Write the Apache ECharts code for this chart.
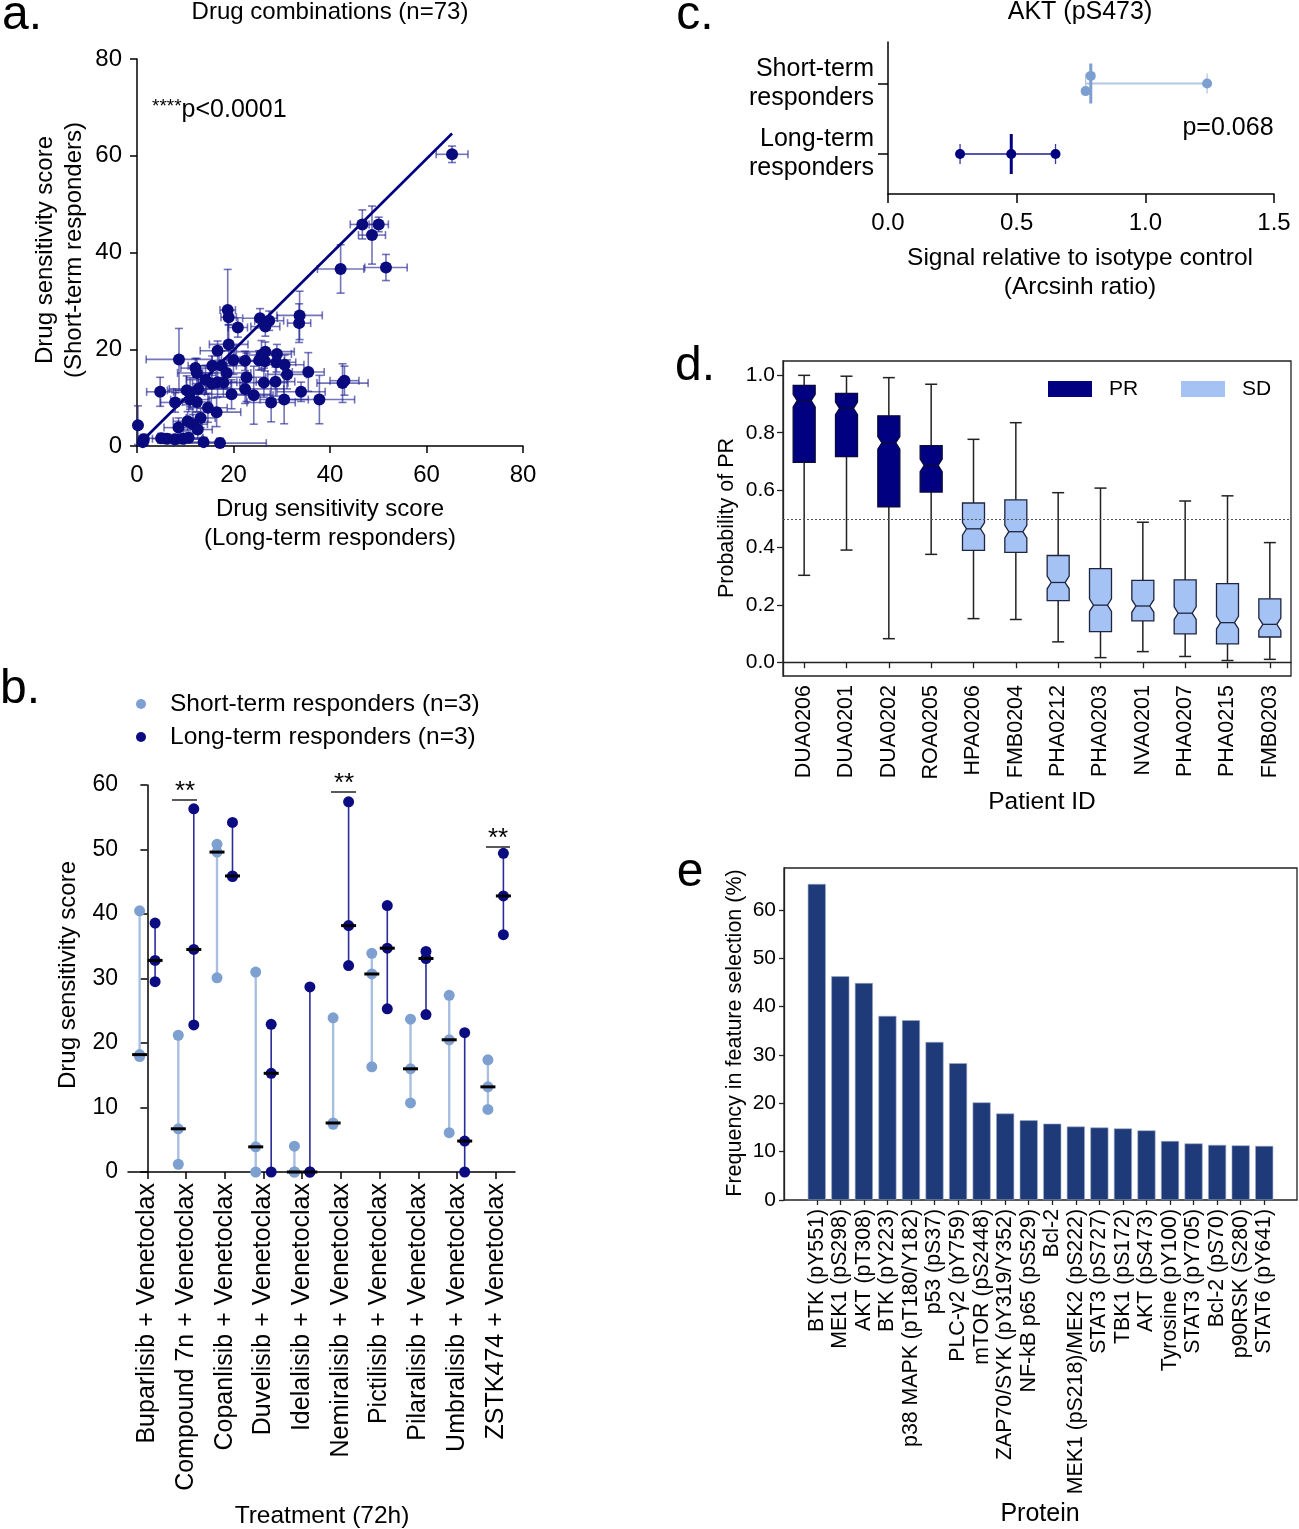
<!DOCTYPE html>
<html><head><meta charset="utf-8">
<script src="https://cdn.jsdelivr.net/npm/echarts@6/dist/echarts.min.js"></script>
<style>html,body{margin:0;padding:0;background:#fff}#c{width:1299px;height:1529px}</style>
</head><body><div id="c"></div><script>
const FONT = '"Liberation Sans", Arial, Helvetica, sans-serif';

// ---------- Panel a: drug combinations (n=73) ----------
const aX = [46.7,50.1,48.7,42.2,51.6,18.8,19.0,20.9,25.5,27.4,26.6,33.7,33.6,19.0,16.7,8.7,26.6,29.0,25.3,26.5,22.4,20.0,30.6,15.6,17.5,12.1,18.6,22.7,31.1,35.5,14.2,16.7,26.3,28.7,42.6,43.0,4.8,10.3,12.7,22.4,34.0,19.6,24.2,7.9,11.0,12.4,27.8,30.5,37.8,14.7,16.5,13.2,0.2,10.5,8.6,11.6,12.6,1.4,1.2,5.0,6.2,7.9,9.5,10.7,13.8,17.2,12.4,28.9,25.8,15.5,11.0,65.3,17.9];
const aY = [45.8,45.8,43.6,36.6,36.9,28.1,26.6,24.5,26.4,25.9,24.7,27.0,25.4,21.0,19.7,17.9,19.5,19.0,17.7,17.5,17.6,17.8,16.8,16.6,16.6,16.1,15.1,14.2,14.8,15.3,13.7,13.2,13.1,13.3,13.0,13.5,11.2,11.5,11.8,11.8,11.2,10.7,10.5,9.0,9.6,9.1,9.0,9.6,9.6,7.9,7.0,5.8,4.3,5.1,3.8,4.5,3.4,1.4,0.8,1.6,1.5,1.4,1.5,1.7,0.8,0.6,15.1,17.3,18.8,12.9,11.1,60.3,13.1];
const aXErr = [2.5,2.0,2.8,4.8,4.4,1.6,1.6,2.0,3.6,3.0,3.0,4.7,2.4,4.0,3.6,6.8,6.0,3.0,4.0,4.0,3.0,3.0,4.0,5.0,5.0,3.0,5.0,4.0,4.0,3.3,4.0,4.0,5.0,4.0,5.3,3.0,2.8,4.0,6.0,8.0,5.0,8.0,4.0,3.0,4.0,3.0,5.0,5.0,7.3,4.0,5.0,3.0,0.5,3.0,3.0,3.0,3.0,1.0,1.0,4.0,3.0,3.0,4.0,3.0,4.0,9.6,4.0,4.0,3.0,4.0,3.0,3.3,4.0];
const aYErr = [3.0,1.5,6.0,5.0,2.7,8.4,1.5,2.0,2.0,2.0,2.0,5.0,4.0,4.0,2.0,6.4,2.0,2.0,2.0,2.0,2.0,3.0,2.0,2.0,3.0,2.0,3.0,5.0,3.0,4.0,3.0,3.0,3.0,3.0,4.0,3.0,3.0,3.0,3.0,3.0,2.0,3.0,6.0,2.0,2.0,2.0,4.0,5.0,5.0,3.0,3.0,2.0,4.0,2.0,2.0,2.0,2.0,1.0,1.0,1.0,1.0,1.0,1.0,1.0,1.0,1.0,3.0,2.0,3.0,3.0,3.0,1.7,3.0];
const aFitX = [1.3, 65.3];
const aFitY = [1.3, 64.6];

// ---------- Panel b: treatments ----------
const bTreatments = ['Buparlisib + Venetoclax','Compound 7n + Venetoclax','Copanlisib + Venetoclax','Duvelisib + Venetoclax','Idelalisib + Venetoclax','Nemiralisib + Venetoclax','Pictilisib + Venetoclax','Pilaralisib + Venetoclax','Umbralisib + Venetoclax','ZSTK474 + Venetoclax'];
const bShort = [[40.5,18.2,17.9],[21.2,6.7,1.2],[50.8,49.6,30.1],[31.0,3.9,0],[4.0,0,0],[23.9,7.6,7.4],[33.9,30.7,16.3],[23.7,16.0,10.7],[27.4,20.5,6.1],[17.4,13.2,9.7]];
const bLong = [[38.6,32.8,29.5],[56.3,34.5,22.8],[54.2,45.9,45.8],[22.9,15.3,0],[28.7,0,0],[57.4,38.2,32.0],[41.3,34.7,25.3],[34.2,33.1,24.4],[21.6,4.8,0],[49.4,42.8,36.8]];

// ---------- Panel c: AKT (pS473) ----------
const cGroups = ['Long-term\nresponders', 'Short-term\nresponders'];
const cGroupTicks = [1, 2];
const cShort = [0.788, 0.768, 1.240];
const cShortJitter = [0.108, -0.108, 0];
const cLong = [0.280, 0.479, 0.651];

// ---------- Panel d: probability of PR ----------
const dPatients = ['DUA0206','DUA0201','DUA0202','ROA0205','HPA0206','FMB0204','PHA0212','PHA0203','NVA0201','PHA0207','PHA0215','FMB0203'];
const dResponse = ['PR','PR','PR','PR','SD','SD','SD','SD','SD','SD','SD','SD'];
const dLow  = [0.303,0.391,0.082,0.376,0.152,0.149,0.071,0.016,0.037,0.020,0.006,0.010];
const dQ1   = [0.697,0.717,0.542,0.593,0.390,0.383,0.215,0.107,0.144,0.099,0.064,0.088];
const dMed  = [0.912,0.885,0.765,0.686,0.465,0.455,0.278,0.199,0.196,0.171,0.138,0.132];
const dQ3   = [0.965,0.937,0.859,0.755,0.555,0.566,0.372,0.326,0.285,0.287,0.274,0.221];
const dHigh = [1.000,0.997,0.992,0.969,0.777,0.835,0.591,0.607,0.488,0.562,0.580,0.417];
const dTicks = [0, 0.2, 0.4, 0.6, 0.8, 1.0];

// ---------- Panel e: feature selection ----------
const eProteins = ['BTK (pY551)','MEK1 (pS298)','AKT (pT308)','BTK (pY223)','p38 MAPK (pT180/Y182)','p53 (pS37)','PLC-γ2 (pY759)','mTOR (pS2448)','ZAP70/SYK (pY319/Y352)','NF-kB p65 (pS529)','Bcl-2','MEK1 (pS218)/MEK2 (pS222)','STAT3 (pS727)','TBK1 (pS172)','AKT (pS473)','Tyrosine (pY100)','STAT3 (pY705)','Bcl-2 (pS70)','p90RSK (S280)','STAT6 (pY641)'];
const eFreq = [65.4,46.3,44.9,38.1,37.2,32.7,28.3,20.2,17.9,16.5,15.8,15.2,15.0,14.8,14.4,12.2,11.7,11.4,11.3,11.2];
const eTicks = [0, 10, 20, 30, 40, 50, 60];

// ---------- helpers ----------
const median3 = arr => arr.slice().sort((p, q) => p - q)[1];
const AX = {color:'#000', width:1.5};
function axisBase(extra) {
  return Object.assign({
    axisLine:{show:true, lineStyle:AX},
    axisTick:{show:true, inside:false, length:7, lineStyle:AX},
    splitLine:{show:false},
    axisLabel:{color:'#000', fontFamily:FONT, fontSize:22}
  }, extra);
}

function errRender(params, api) {
  const x = api.value(0), y = api.value(1), xe = api.value(2), ye = api.value(3);
  const x0 = Math.max(0, x - xe), y0 = Math.max(0, y - ye);
  const pL = api.coord([x0, y]), pR = api.coord([x + xe, y]);
  const pB = api.coord([x, y0]), pT = api.coord([x, y + ye]);
  const cap = 4;
  const st = {stroke:'rgba(30,30,145,0.62)', lineWidth:1.6};
  const ch = [
    {type:'line', shape:{x1:pL[0], y1:pL[1], x2:pR[0], y2:pR[1]}, style:st},
    {type:'line', shape:{x1:pB[0], y1:pB[1], x2:pT[0], y2:pT[1]}, style:st},
    {type:'line', shape:{x1:pR[0], y1:pR[1]-cap, x2:pR[0], y2:pR[1]+cap}, style:st},
    {type:'line', shape:{x1:pT[0]-cap, y1:pT[1], x2:pT[0]+cap, y2:pT[1]}, style:st}
  ];
  if (x - xe > 0) ch.push({type:'line', shape:{x1:pL[0], y1:pL[1]-cap, x2:pL[0], y2:pL[1]+cap}, style:st});
  if (y - ye > 0) ch.push({type:'line', shape:{x1:pB[0]-cap, y1:pB[1], x2:pB[0]+cap, y2:pB[1]}, style:st});
  return {type:'group', children:ch};
}

function rangeRender(color, width) {
  return function (params, api) {
    const x = api.value(0);
    const p1 = api.coord([x, api.value(1)]), p2 = api.coord([x, api.value(2)]);
    return {type:'line', shape:{x1:p1[0], y1:p1[1], x2:p2[0], y2:p2[1]}, style:{stroke:color, lineWidth:width}};
  };
}

function cRender(params, api) {
  const lo = api.value(0), hi = api.value(1), md = api.value(2), yv = api.value(3);
  const short = params.dataIndex === 1;
  const lineC = short ? '#b3c7e5' : '#5656b2';
  const medC = short ? '#7c9fcf' : '#00007f';
  const capC = short ? '#b3c7e5' : '#3a3aa6';
  const pL = api.coord([lo, yv]), pR = api.coord([hi, yv]), pM = api.coord([md, yv]);
  return {type:'group', children:[
    {type:'line', shape:{x1:pL[0], y1:pL[1], x2:pR[0], y2:pR[1]}, style:{stroke:lineC, lineWidth:2}},
    {type:'line', shape:{x1:pL[0], y1:pL[1]-10, x2:pL[0], y2:pL[1]+10}, style:{stroke:capC, lineWidth:1.3}},
    {type:'line', shape:{x1:pR[0], y1:pR[1]-10, x2:pR[0], y2:pR[1]+10}, style:{stroke:capC, lineWidth:1.3}},
    {type:'line', shape:{x1:pM[0], y1:pM[1]-20, x2:pM[0], y2:pM[1]+20}, style:{stroke:medC, lineWidth:3}}
  ]};
}

function boxRender(params, api) {
  const i = api.value(0);
  const lo = api.value(1), q1 = api.value(2), md = api.value(3), q3 = api.value(4), hi = api.value(5);
  const X = api.coord([i, md])[0];
  const Y = v => api.coord([i, v])[1];
  const w = 11, n = 4, nh = 0.022, cap = 6;
  const pr = dResponse[params.dataIndex] === 'PR';
  const fill = pr ? '#000080' : '#a4c2f4';
  const stroke = pr ? '#0a0a3c' : '#1f2440';
  const wst = {stroke:'#222', lineWidth:1.5};
  const nTop = Math.min(md + nh, q3), nBot = Math.max(md - nh, q1);
  const pts = [
    [X - w, Y(q3)], [X + w, Y(q3)], [X + w, Y(nTop)], [X + w - n, Y(md)], [X + w, Y(nBot)],
    [X + w, Y(q1)], [X - w, Y(q1)], [X - w, Y(nBot)], [X - w + n, Y(md)], [X - w, Y(nTop)]
  ];
  return {type:'group', children:[
    {type:'line', shape:{x1:X, y1:Y(hi), x2:X, y2:Y(q3)}, style:wst},
    {type:'line', shape:{x1:X, y1:Y(q1), x2:X, y2:Y(lo)}, style:wst},
    {type:'line', shape:{x1:X-cap, y1:Y(hi), x2:X+cap, y2:Y(hi)}, style:wst},
    {type:'line', shape:{x1:X-cap, y1:Y(lo), x2:X+cap, y2:Y(lo)}, style:wst},
    {type:'polygon', shape:{points:pts}, style:{fill:fill, stroke:stroke, lineWidth:1.3}},
    {type:'line', shape:{x1:X-w+n, y1:Y(md), x2:X+w-n, y2:Y(md)}, style:{stroke:stroke, lineWidth:1.3}}
  ]};
}

// ---------- build series data ----------
const aErrData = aX.map((x, i) => [x, aY[i], aXErr[i], aYErr[i]]);
const aDots = aX.map((x, i) => [x, aY[i]]);
const aFit = aFitX.map((x, i) => [x, aFitY[i]]);

const OFF = 0.2;
const bShortRange = bShort.map((v, i) => [i - OFF, Math.min(...v), Math.max(...v)]);
const bLongRange = bLong.map((v, i) => [i + OFF, Math.min(...v), Math.max(...v)]);
const bShortDots = []; bShort.forEach((v, i) => v.forEach(s => bShortDots.push([i - OFF, s])));
const bLongDots = []; bLong.forEach((v, i) => v.forEach(s => bLongDots.push([i + OFF, s])));
const bMedians = bShort.map((v, i) => [i - OFF, median3(v)]).concat(bLong.map((v, i) => [i + OFF, median3(v)]));

const cRanges = [
  [Math.min(...cLong), Math.max(...cLong), median3(cLong), cGroupTicks[0]],
  [Math.min(...cShort), Math.max(...cShort), median3(cShort), cGroupTicks[1]]
];
const cShortDots = cShort.map((v, k) => [v, cGroupTicks[1] + cShortJitter[k]]);
const cLongDots = cLong.map(v => [v, cGroupTicks[0]]);

const dData = dPatients.map((p, i) => [i, dLow[i], dQ1[i], dMed[i], dQ3[i], dHigh[i]]);

// ---------- text graphics ----------
function T(text, x, y, size, opts) {
  return Object.assign({type:'text', x:x, y:y, silent:true, style:Object.assign({
    text:text, fontFamily:FONT, fontSize:size, fill:'#000',
    textAlign:'center', align:'center', textVerticalAlign:'middle', verticalAlign:'middle'
  }, (opts && opts.style) || {})}, opts && opts.rotation ? {rotation:opts.rotation} : {});
}
function L(x1, y1, x2, y2, w) {
  return {type:'line', silent:true, shape:{x1, y1, x2, y2}, style:{stroke:'#000', lineWidth:w || 1.3}};
}
const R90 = Math.PI / 2;
const LEFT = {style:{textAlign:'left', align:'left'}};
const graphics = [
  // panel a
  T('a.', 22, 16, 48),
  T('Drug combinations (n=73)', 330, 12, 24),
  {type:'text', x:152, y:110, silent:true, style:{
    text:'{s|****}{n|p<0.0001}', fontFamily:FONT, fill:'#000', textAlign:'left', align:'left',
    textVerticalAlign:'middle', verticalAlign:'middle',
    rich:{s:{fontSize:19, fontFamily:FONT, fill:'#000', padding:[0,0,7,0]}, n:{fontSize:25, fontFamily:FONT, fill:'#000'}}
  }},
  T('Drug sensitivity score', 45, 250, 24, {rotation:R90}),
  T('(Short-term responders)', 74, 250, 24, {rotation:R90}),
  T('Drug sensitivity score', 330, 509, 24),
  T('(Long-term responders)', 330, 538, 24),
  // panel b
  T('b.', 20, 690, 48),
  {type:'circle', silent:true, shape:{cx:141, cy:704, r:5}, style:{fill:'#7da0d0'}},
  {type:'circle', silent:true, shape:{cx:141, cy:737, r:5}, style:{fill:'#0c0c82'}},
  T('Short-term responders (n=3)', 170, 704, 24.5, LEFT),
  T('Long-term responders (n=3)', 170, 737, 24.5, LEFT),
  T('Drug sensitivity score', 68, 975, 24, {rotation:R90}),
  T('Treatment (72h)', 322, 1516, 24.5),
  T('**', 185, 792, 26), L(172, 800, 197, 800),
  T('**', 344, 784, 26), L(331, 792, 356, 792),
  T('**', 498, 839, 26), L(486, 847, 510, 847),
  // panel c
  T('c.', 695, 16, 48),
  T('AKT (pS473)', 1080, 12, 25),
  T('p=0.068', 1228, 128, 25),
  T('Signal relative to isotype control', 1080, 258, 24.5),
  T('(Arcsinh ratio)', 1080, 287, 24.5),
  // panel d
  T('d.', 695, 367, 48),
  T('Probability of PR', 727, 518, 21.5, {rotation:R90}),
  T('Patient ID', 1042, 802, 24.5),
  {type:'rect', silent:true, shape:{x:1048, y:381, width:44, height:16}, style:{fill:'#000080'}},
  {type:'rect', silent:true, shape:{x:1181, y:381, width:44, height:16}, style:{fill:'#a4c2f4'}},
  T('PR', 1109, 389, 21, LEFT),
  T('SD', 1242, 389, 21, LEFT),
  // panel e
  T('e', 690, 873, 48),
  T('Frequency in feature selection (%)', 735, 1033, 21.5, {rotation:R90}),
  T('Protein', 1040, 1514, 25),
  {type:'rect', silent:true, shape:{x:784, y:868, width:513, height:332}, style:{fill:'none', stroke:'#222', lineWidth:1.3}}
];

const chart = echarts.init(document.getElementById('c'), null, {renderer:'canvas', width:1299, height:1529});
chart.setOption({
  backgroundColor:'#fff',
  animation:false,
  textStyle:{fontFamily:FONT, color:'#000'},
  grid:[
    {left:137, top:59, width:386, height:387},
    {left:128, top:785, width:387, height:387},
    {left:888, top:42, width:386, height:152},
    {left:783, top:361, width:508, height:315, show:true, borderColor:'#222', borderWidth:1.3, backgroundColor:'transparent'},
    {left:805, top:868, width:471, height:332}
  ],
  xAxis:[
    axisBase({gridIndex:0, type:'value', min:0, max:80, interval:20, axisLabel:{color:'#000', fontFamily:FONT, fontSize:24, margin:17}}),
    axisBase({gridIndex:1, type:'category', data:bTreatments, boundaryGap:true,
      axisTick:{show:true, alignWithLabel:true, length:7, lineStyle:AX},
      axisLabel:{color:'#000', fontFamily:FONT, fontSize:25, rotate:90, interval:0, margin:11}}),
    {gridIndex:1, type:'value', min:-0.5, max:9.5, show:false},
    axisBase({gridIndex:2, type:'value', min:0, max:1.5, interval:0.5,
      axisTick:{show:true, length:9, lineStyle:AX},
      axisLabel:{color:'#000', fontFamily:FONT, fontSize:24, margin:17, formatter:v => v.toFixed(1)}}),
    axisBase({gridIndex:3, type:'category', data:dPatients, boundaryGap:true,
      axisLine:{show:true, lineStyle:{color:'#222', width:1.3}},
      axisTick:{show:true, alignWithLabel:true, length:6, lineStyle:{color:'#222', width:1.3}},
      axisLabel:{color:'#000', fontFamily:FONT, fontSize:21.5, rotate:90, interval:0, margin:9}}),
    axisBase({gridIndex:4, type:'category', data:eProteins, boundaryGap:true,
      axisLine:{show:false},
      axisTick:{show:true, alignWithLabel:true, length:5, lineStyle:{color:'#222', width:1.3}},
      axisLabel:{color:'#000', fontFamily:FONT, fontSize:21.3, rotate:90, interval:0, margin:9}})
  ],
  yAxis:[
    axisBase({gridIndex:0, type:'value', min:0, max:80, interval:20, axisLabel:{color:'#000', fontFamily:FONT, fontSize:24, margin:15}}),
    axisBase({gridIndex:1, type:'value', min:0, max:60, interval:10, axisLabel:{color:'#000', fontFamily:FONT, fontSize:23, margin:10}}),
    axisBase({gridIndex:2, type:'value', min:0.4326, max:2.5887,
      axisTick:{show:true, length:10, customValues:cGroupTicks, lineStyle:AX},
      axisLabel:{color:'#000', fontFamily:FONT, fontSize:25, lineHeight:29, margin:14, align:'right',
        customValues:cGroupTicks, formatter:v => cGroups[Math.round(v) - 1]}}),
    axisBase({gridIndex:3, type:'value', min:-0.048, max:1.05,
      axisLine:{show:true, lineStyle:{color:'#222', width:1.3}},
      axisTick:{show:true, length:6, customValues:dTicks, lineStyle:{color:'#222', width:1.3}},
      axisLabel:{color:'#000', fontFamily:FONT, fontSize:21, margin:8, customValues:dTicks, formatter:v => v.toFixed(1)}}),
    axisBase({gridIndex:4, type:'value', min:0, max:68.7, offset:21,
      axisLine:{show:true, lineStyle:{color:'#222', width:1.3}},
      axisTick:{show:true, length:5, customValues:eTicks, lineStyle:{color:'#222', width:1.3}},
      axisLabel:{color:'#000', fontFamily:FONT, fontSize:21, margin:8, customValues:eTicks}})
  ],
  series:[
    // a
    {type:'custom', xAxisIndex:0, yAxisIndex:0, renderItem:errRender, data:aErrData, encode:{x:0, y:1}, z:2},
    {type:'line', xAxisIndex:0, yAxisIndex:0, data:aFit, symbol:'none', lineStyle:{color:'#00007f', width:2.6}, z:3},
    {type:'scatter', xAxisIndex:0, yAxisIndex:0, data:aDots, symbolSize:12, itemStyle:{color:'#0a0a7f', opacity:1}, z:4},
    // b
    {type:'custom', xAxisIndex:2, yAxisIndex:1, renderItem:rangeRender('#a9bfe1', 2.4), data:bShortRange, encode:{x:0, y:[1,2]}, z:2},
    {type:'custom', xAxisIndex:2, yAxisIndex:1, renderItem:rangeRender('#2b2b9c', 1.6), data:bLongRange, encode:{x:0, y:[1,2]}, z:2},
    {type:'scatter', xAxisIndex:2, yAxisIndex:1, data:bShortDots, symbolSize:11, itemStyle:{color:'#7da0d0', opacity:1}, z:3},
    {type:'scatter', xAxisIndex:2, yAxisIndex:1, data:bLongDots, symbolSize:11, itemStyle:{color:'#0c0c82', opacity:1}, z:3},
    {type:'scatter', xAxisIndex:2, yAxisIndex:1, data:bMedians, symbol:'rect', symbolSize:[15,3], itemStyle:{color:'#000', opacity:1}, z:5},
    // c
    {type:'custom', xAxisIndex:3, yAxisIndex:2, renderItem:cRender, data:cRanges, encode:{x:[0,1], y:3}, z:2},
    {type:'scatter', xAxisIndex:3, yAxisIndex:2, data:cShortDots, symbolSize:10, itemStyle:{color:'#7c9fcf', opacity:1}, z:3},
    {type:'scatter', xAxisIndex:3, yAxisIndex:2, data:cLongDots, symbolSize:10, itemStyle:{color:'#00007f', opacity:1}, z:3},
    // d
    {type:'custom', xAxisIndex:4, yAxisIndex:3, renderItem:boxRender, data:dData, encode:{x:0, y:[1,2,3,4,5]}, z:3,
      markLine:{silent:true, symbol:'none', label:{show:false}, lineStyle:{color:'#555', type:[2,2], width:1}, data:[{yAxis:0.5}]}},
    // e
    {type:'bar', xAxisIndex:5, yAxisIndex:4, data:eFreq, barWidth:18, itemStyle:{color:'#1f3a78', borderColor:'#9aa8c6', borderWidth:0.6}}
  ],
  graphic:graphics
});
</script></body></html>
